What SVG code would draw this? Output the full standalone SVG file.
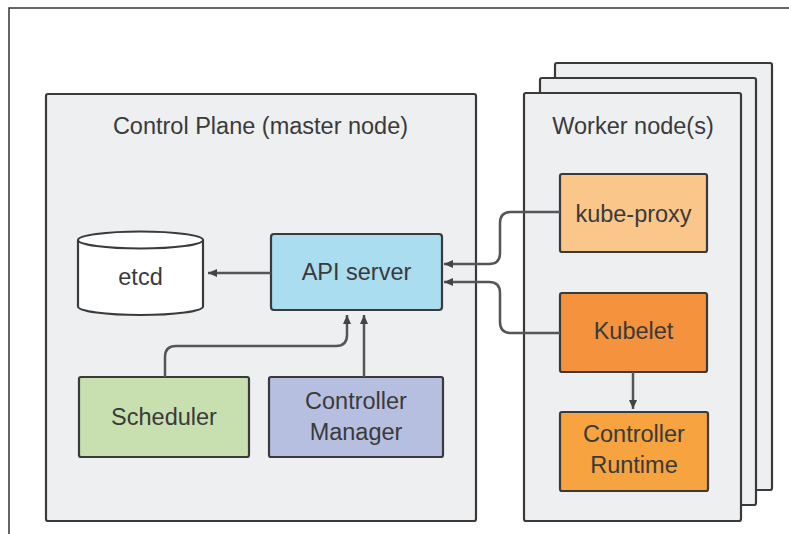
<svg xmlns="http://www.w3.org/2000/svg" width="789" height="534" viewBox="0 0 789 534">
<defs>
<style>
.frame{fill:none;stroke:#333;stroke-width:1.5}
.cont{fill:#eeeff1;stroke:#3a3a3a;stroke-width:2.2}
.box{stroke:#3a3a3a;stroke-width:2.2}
.lbl{font-family:"Liberation Sans",Arial,sans-serif;font-size:23.5px;fill:#3a3a3a;text-anchor:middle}
.conn{fill:none;stroke:#555;stroke-width:2.5}
</style>
<marker id="ah" markerUnits="userSpaceOnUse" markerWidth="9" markerHeight="8" refX="9" refY="4" orient="auto">
<path d="M0,0 L9,4 L0,8 z" fill="#444"/>
</marker>
</defs>
<rect width="789" height="534" fill="#fff"/>
<path class="frame" d="M9,534 V8 H789"/>

<g id="control-plane">
<rect class="cont" x="46" y="94" width="430" height="427" rx="2"/>
<text class="lbl" x="260.5" y="134">Control Plane (master node)</text>
</g>

<g id="worker-nodes">
<rect class="cont" x="555" y="63" width="217" height="427" rx="2"/>
<rect class="cont" x="540" y="78" width="216" height="427" rx="2"/>
<rect class="cont" x="524" y="93" width="217" height="428" rx="2"/>
<text class="lbl" x="633" y="134">Worker node(s)</text>
</g>

<g id="etcd">
<path d="M78,240 V306.5 A62.5,8.5 0 0 0 203,306.5 V240" fill="#fff" stroke="#3a3a3a" stroke-width="2.2"/>
<ellipse cx="140.5" cy="240" rx="62.5" ry="8.5" fill="#fff" stroke="#3a3a3a" stroke-width="2.2"/>
<text class="lbl" x="140.5" y="285">etcd</text>
</g>

<g id="api-server">
<rect class="box" x="271" y="234" width="171" height="76" rx="3" fill="#a9ddef"/>
<text class="lbl" x="356.5" y="280">API server</text>
</g>

<g id="scheduler">
<rect class="box" x="79" y="377" width="170" height="80" rx="2" fill="#c8e0b0"/>
<text class="lbl" x="164" y="425">Scheduler</text>
</g>

<g id="controller-manager">
<rect class="box" x="269" y="377" width="174" height="80" rx="2" fill="#b7bfe1"/>
<text class="lbl" x="356" y="409">Controller</text>
<text class="lbl" x="356" y="440">Manager</text>
</g>

<g id="kube-proxy">
<rect class="box" x="560" y="174" width="147" height="78" rx="2" fill="#fbc689"/>
<text class="lbl" x="633.5" y="222">kube-proxy</text>
</g>

<g id="kubelet">
<rect class="box" x="560" y="293" width="147" height="79" rx="2" fill="#f4923e"/>
<text class="lbl" x="633.5" y="339">Kubelet</text>
</g>

<g id="controller-runtime">
<rect class="box" x="560" y="412" width="148" height="79" rx="2" fill="#f7a33f"/>
<text class="lbl" x="634" y="442">Controller</text>
<text class="lbl" x="634" y="473">Runtime</text>
</g>

<g id="connectors">
<path class="conn" d="M271,273 H208" marker-end="url(#ah)"/>
<path class="conn" d="M560,212 H511 Q500,212 500,223 V253 Q500,264 489,264 H444" marker-end="url(#ah)"/>
<path class="conn" d="M560,333 H511 Q500,333 500,322 V293 Q500,282 489,282 H444" marker-end="url(#ah)"/>
<path class="conn" d="M165,377 V357 Q165,346 176,346 H336 Q347,346 347,335 V315" marker-end="url(#ah)"/>
<path class="conn" d="M364,377 V315" marker-end="url(#ah)"/>
<path class="conn" d="M633,372 V409" marker-end="url(#ah)"/>
</g>
</svg>
